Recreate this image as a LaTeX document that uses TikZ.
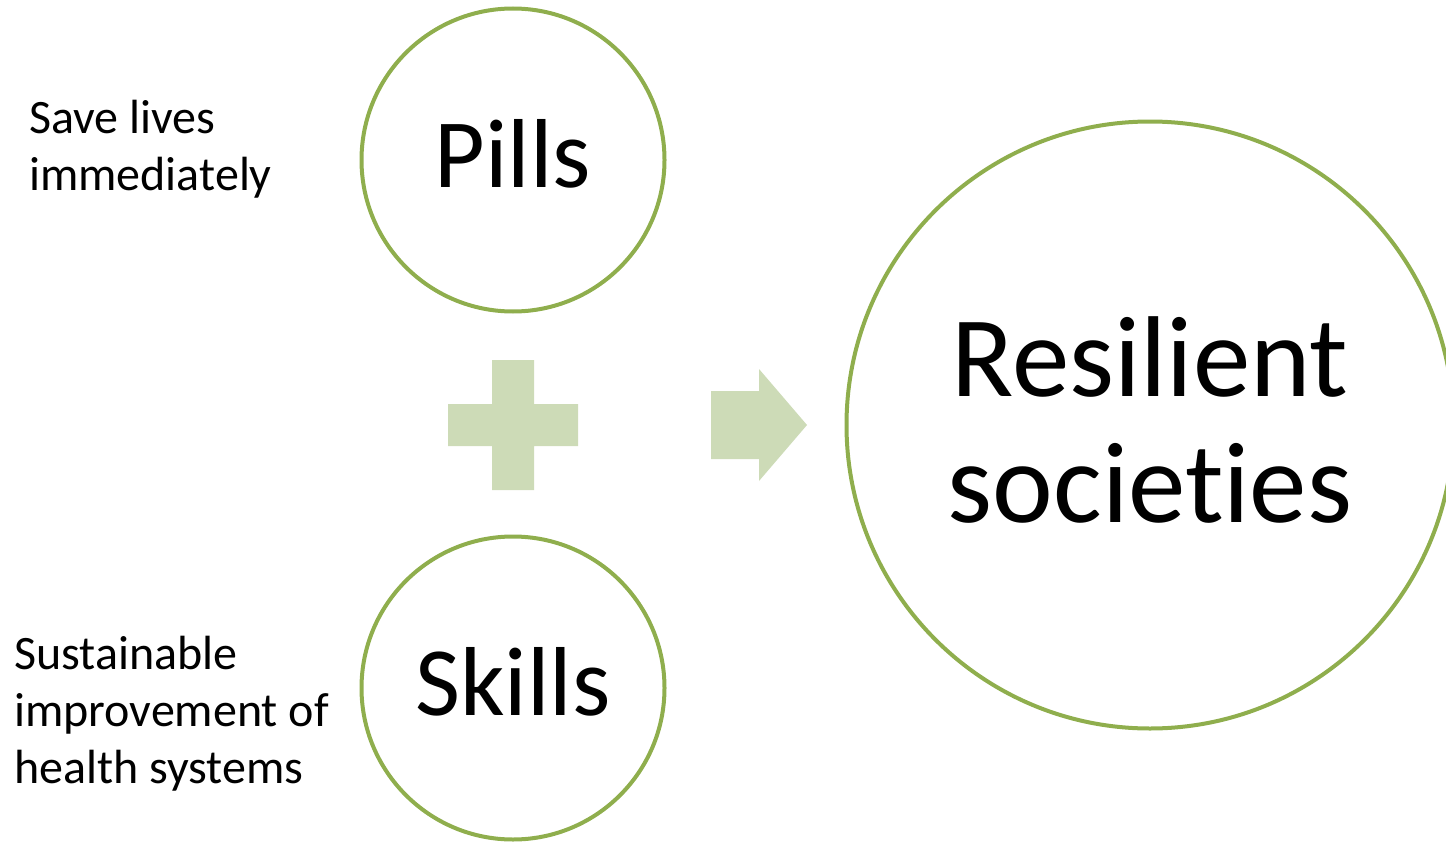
\documentclass[tikz,border=0pt]{standalone}
\usepackage{fontspec}
\setmainfont{Carlito}[Ligatures=NoCommon]
\definecolor{ringgreen}{RGB}{143,174,77}
\definecolor{signgreen}{RGB}{205,219,183}

\begin{document}
\begin{tikzpicture}[x=1pt, y=-1pt,
    ring/.style={circle, draw=ringgreen, line width=4pt, inner sep=0pt},
    word/.style={font=\fontsize{98}{110}\selectfont, text height=74pt, text depth=20pt},
    note/.style={font=\fontsize{48}{57}\selectfont, align=left, anchor=base west, inner sep=0pt},
    sign/.style={fill=signgreen, draw=none}
]
\useasboundingbox (0,0) rectangle (1446,843);

% Kreise
\node[ring, word, minimum size=303pt] (pills) at (513,160) {Pills};
\node[ring, word, minimum size=303pt] (skills) at (513,688) {Skills};
\node[ring, minimum size=607pt, align=center, text depth=11pt,
      font=\fontsize{115}{126}\selectfont] (society) at (1150,425) {Resilient\\societies};

% Notizen (Grundlinie der letzten Zeile)
\node[note] (savenote) at (29,190) {Save lives\\immediately};
\node[note] (healthnote) at (14,783) {Sustainable\\improvement of\\health systems};

% Plus und Pfeil
\fill[sign] (492,360) -- (534,360) -- (534,404) -- (578,404) -- (578,446) -- (534,446)
  -- (534,490) -- (492,490) -- (492,446) -- (448,446) -- (448,404) -- (492,404) -- cycle;
\fill[sign] (711,391) -- (759,391) -- (759,369) -- (807,425) -- (759,481) -- (759,459)
  -- (711,459) -- cycle;
\end{tikzpicture}
\end{document}
